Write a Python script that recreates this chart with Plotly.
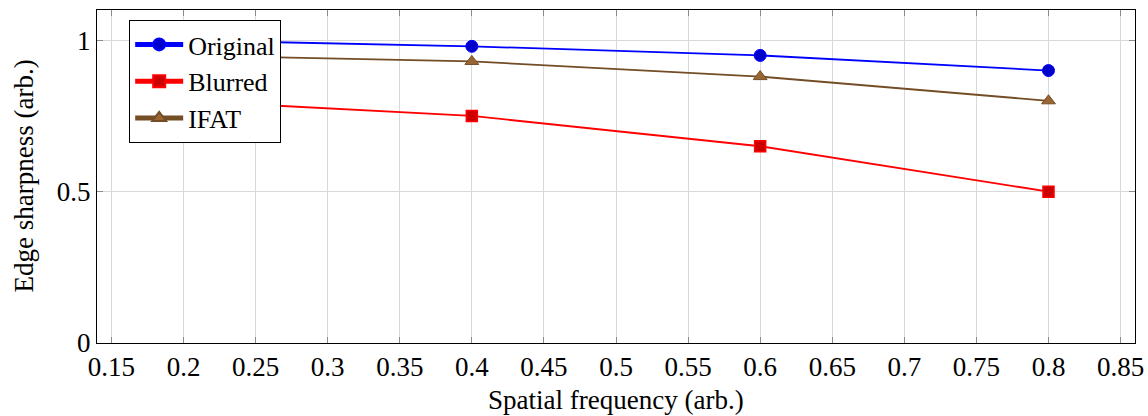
import plotly.graph_objects as go

freq = [0.2, 0.4, 0.6, 0.8]
original = [1.0, 0.98, 0.95, 0.90]
blurred = [0.80, 0.75, 0.65, 0.50]
ifat = [0.95, 0.93, 0.88, 0.80]

x_ticks = [0.15, 0.2, 0.25, 0.3, 0.35, 0.4, 0.45, 0.5, 0.55, 0.6, 0.65, 0.7, 0.75, 0.8, 0.85]
x_tick_labels = ["0.15", "0.2", "0.25", "0.3", "0.35", "0.4", "0.45", "0.5", "0.55", "0.6", "0.65", "0.7", "0.75", "0.8", "0.85"]
y_ticks = [0, 0.5, 1]
y_tick_labels = ["0", "0.5", "1"]

FONT = "Liberation Serif, Times New Roman, serif"
FS = 27

fig = go.Figure()
fig.add_trace(go.Scatter(
    x=freq, y=original, name="Original", mode="lines+markers",
    line=dict(color="rgb(0,0,255)", width=1.8),
    marker=dict(symbol="circle", size=12, color="rgb(0,0,204)", line=dict(color="rgb(0,0,255)", width=1)),
))
fig.add_trace(go.Scatter(
    x=freq, y=blurred, name="Blurred", mode="lines+markers",
    line=dict(color="rgb(255,0,0)", width=1.8),
    marker=dict(symbol="square", size=11, color="rgb(204,0,0)", line=dict(color="rgb(255,0,0)", width=1.5)),
))
fig.add_trace(go.Scatter(
    x=freq, y=ifat, name="IFAT", mode="lines+markers",
    line=dict(color="rgb(115,77,38)", width=1.8),
    marker=dict(symbol="triangle-up", size=12, color="rgb(153,102,51)", line=dict(color="rgb(115,77,38)", width=1)),
))

axis_common = dict(
    showgrid=True, gridcolor="rgb(217,217,217)", gridwidth=1,
    showline=True, linecolor="black", linewidth=1, mirror="ticks",
    ticks="inside", ticklen=6, tickcolor="rgb(140,140,140)", tickwidth=1,
    zeroline=False, automargin=False,
    tickfont=dict(family=FONT, size=FS, color="black"),
)

fig.update_layout(
    width=1148, height=416,
    margin=dict(l=97, r=13, t=10, b=73),
    paper_bgcolor="white", plot_bgcolor="white",
    font=dict(family=FONT, size=FS, color="black"),
    xaxis=dict(
        range=[0.14, 0.86], tickmode="array", tickvals=x_ticks, ticktext=x_tick_labels,
        **axis_common,
    ),
    yaxis=dict(
        range=[0, 1.1], tickmode="array", tickvals=y_ticks, ticktext=y_tick_labels,
        **axis_common,
    ),
    legend=dict(
        x=0.031, y=0.97, xanchor="left", yanchor="top",
        bgcolor="white", bordercolor="black", borderwidth=1,
        font=dict(family=FONT, size=26),
        tracegroupgap=0, itemsizing="constant", itemwidth=48,
    ),
    showlegend=True,
    annotations=[
        dict(text="Spatial frequency (arb.)", xref="paper", yref="paper",
             x=0.5, y=0, xanchor="center", yanchor="middle", yshift=-57,
             showarrow=False, font=dict(family=FONT, size=FS)),
        dict(text="Edge sharpness (arb.)", xref="paper", yref="paper",
             x=0, y=0.5, xanchor="center", yanchor="middle", xshift=-74,
             textangle=-90, showarrow=False, font=dict(family=FONT, size=FS)),
    ],
)

fig.write_html(
    "out.html",
    config={"displayModeBar": False},
    post_script="document.body.style.margin='0';document.body.style.overflow='hidden';",
)
